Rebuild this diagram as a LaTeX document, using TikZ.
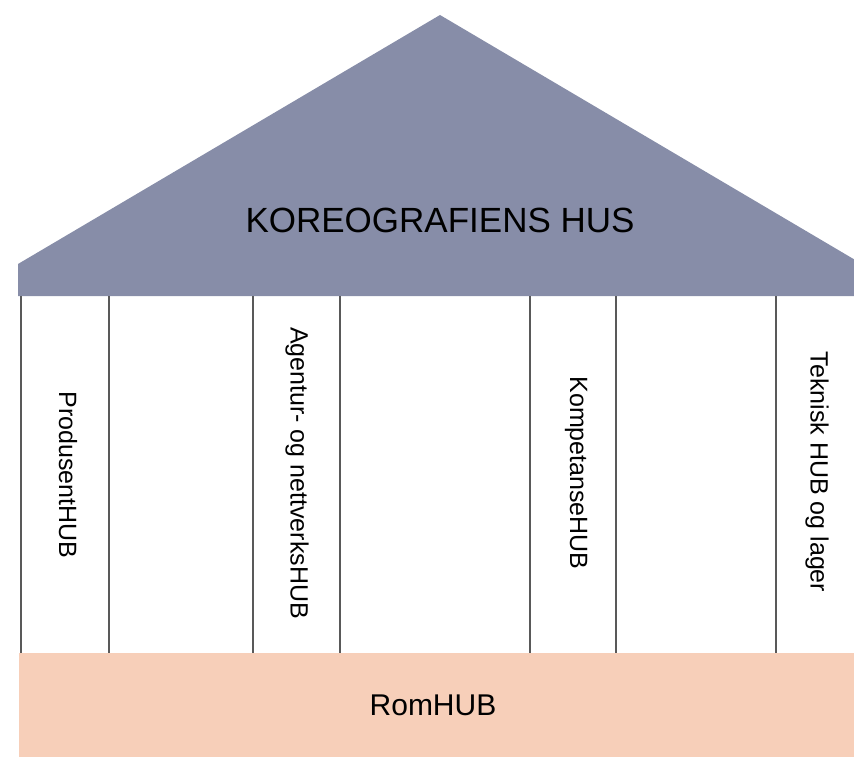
\documentclass[tikz,border=0pt]{standalone}
\usepackage{fontspec}
\setmainfont{Liberation Sans}
\usepackage{tikz}
\usetikzlibrary{positioning}
\definecolor{roofgray}{HTML}{878DA8}
\definecolor{basepeach}{HTML}{F7CFB9}
\tikzstyle{pillarline}=[draw=black!65, line width=2.8pt]
\tikzstyle{pillartext}=[rotate=-90, font=\fontsize{25}{30}\selectfont]

\begin{document}
\begin{tikzpicture}[x=1pt, y=-1pt, every node/.style={inner sep=0pt}]
\useasboundingbox (0,0) rectangle (854,757);

\fill[roofgray] (18,296) -- (18,264) -- (440,15) -- (862,264) -- (862,296) -- cycle;
\node[font=\fontsize{35}{40}\selectfont] (roof) at (440,220) {KOREOGRAFIENS HUS};

\fill[basepeach] (19,653) rectangle (860,757);
\node[font=\fontsize{30}{36}\selectfont] (base) at (433,705) {RomHUB};

\foreach \x in {21,109,253,340,530,616,776}
  \draw[pillarline] (\x,296) -- (\x,653);

\node[pillartext] (p1) at (68,475) {ProdusentHUB};
\node[pillartext] (p2) at (297,473) {Agentur- og nettverksHUB};
\node[pillartext] (p3) at (576,473) {KompetanseHUB};
\node[pillartext] (p4) at (817,472) {Teknisk HUB og lager};

\end{tikzpicture}
\end{document}
